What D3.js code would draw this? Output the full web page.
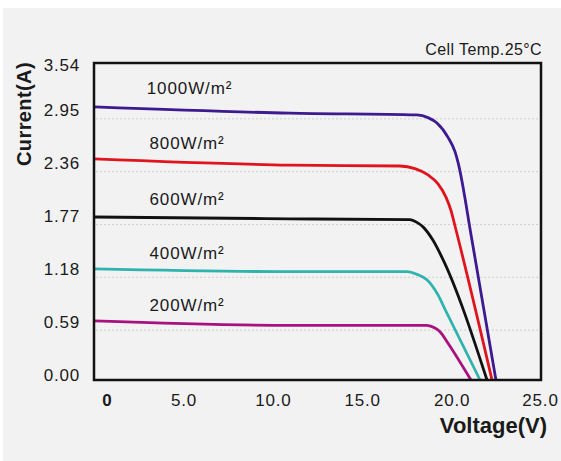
<!DOCTYPE html>
<html><head><meta charset="utf-8">
<script src="https://cdn.jsdelivr.net/npm/d3@7"></script>
<style>
html,body{margin:0;padding:0;background:#fff;}
svg{display:block;font-family:"Liberation Sans",Arial,Helvetica,sans-serif;}
</style></head>
<body>
<svg id="chart" width="561" height="461"></svg>
<script>
// ---- data (voltage V, current A) ----
const irradianceLabels = ["1000W/m²","800W/m²","600W/m²","400W/m²","200W/m²"];
const seriesColors = ["#3d1a8f","#e0141e","#111111","#2fb3ad","#a8117f"];
const curve1000 = [[0,3.05],[10.96,2.98],[18.06,2.96],[18.68,2.93],[19.18,2.87],[19.80,2.71],[20.19,2.55],[20.36,2.43],[21.14,1.56],[22.48,0]];
const curve800  = [[0,2.47],[10.96,2.40],[17.11,2.39],[17.95,2.36],[18.68,2.29],[19.24,2.19],[19.69,2.04],[19.97,1.89],[20.19,1.72],[22.26,0]];
const curve600  = [[0,1.82],[10.96,1.80],[17.67,1.79],[18.06,1.76],[18.40,1.71],[18.96,1.56],[19.46,1.37],[21.98,0]];
const curve400  = [[0,1.24],[10.96,1.21],[17.51,1.21],[18.06,1.18],[18.62,1.12],[19.24,0.95],[19.63,0.79],[21.59,0]];
const curve200  = [[0,0.66],[10.96,0.61],[18.62,0.61],[19.07,0.58],[19.35,0.54],[19.80,0.41],[21.08,0]];
const yTicks = [0, 0.59, 1.18, 1.77, 2.36, 2.95, 3.54];
const yTickLabels = ["0.00","0.59","1.18","1.77","2.36","2.95","3.54"];
const xTicks = [0, 5, 10, 15, 20, 25];
const xTickLabels = ["0","5.0","10.0","15.0","20.0","25.0"];
const labelValues = [3.26, 2.65, 2.02, 1.42, 0.84]; // where each irradiance label sits (A)

const series = [curve1000, curve800, curve600, curve400, curve200];

const svg = d3.select("#chart");
svg.append("rect").attr("x",3).attr("y",8).attr("width",558).attr("height",453).attr("fill","#f2f2f2");

const x = d3.scaleLinear().domain([0,25]).range([94,541]);
const y = d3.scaleLinear().domain([0,3.54]).range([380,63]);

// dotted gridlines
svg.append("g").selectAll("line").data(yTicks.slice(1,-1)).join("line")
  .attr("x1",x(0)+2).attr("x2",x(25)-2)
  .attr("y1",d=>y(d)+3).attr("y2",d=>y(d)+3)
  .attr("stroke","#cfcfcf").attr("stroke-width",1).attr("stroke-dasharray","2,2");

// curves
const line = d3.line().x(d=>x(d[0])).y(d=>y(d[1])).curve(d3.curveMonotoneX);
svg.append("g").selectAll("path").data(series).join("path")
  .attr("d",line).attr("fill","none")
  .attr("stroke",(d,i)=>seriesColors[i]).attr("stroke-width",2.8)
  .attr("stroke-linejoin","round");

// frame
svg.append("rect").attr("x",x(0)).attr("y",y(3.54)).attr("width",x(25)-x(0)).attr("height",y(0)-y(3.54))
  .attr("fill","none").attr("stroke","#111").attr("stroke-width",2.5);

// y axis labels
const yAxis = d3.axisLeft(y).tickValues(yTicks).tickFormat((d,i)=>yTickLabels[i]).tickSize(0).tickPadding(14);
const gy = svg.append("g").attr("transform",`translate(${x(0)},0)`).call(yAxis);
gy.select(".domain").remove();
gy.selectAll("text").attr("font-size","17px").attr("fill","#1a1a1a").attr("letter-spacing","0.8px")
  .attr("font-family","'Liberation Sans',Arial,sans-serif")
  .attr("dy",(d,i)=> i===yTicks.length-1 ? "0.45em" : "0.0em");

// x axis labels
const xAxis = d3.axisBottom(x).tickValues(xTicks).tickFormat((d,i)=>xTickLabels[i]).tickSize(0).tickPadding(14);
const gx = svg.append("g").attr("transform",`translate(0,${y(0)})`).call(xAxis);
gx.select(".domain").remove();
gx.selectAll("text").attr("font-size","17px").attr("fill","#1a1a1a").attr("letter-spacing","0.8px")
  .attr("font-family","'Liberation Sans',Arial,sans-serif")
  .attr("dx",(d,i)=> i===0 ? 13 : (i===5 ? -1 : 0))
  .attr("font-weight",(d,i)=> i===0 ? "bold" : "normal");

// irradiance labels
svg.append("g").selectAll("text").data(irradianceLabels).join("text")
  .attr("x",(d,i)=> i===0 ? x(2.95) : x(3.1))
  .attr("y",(d,i)=>y(labelValues[i]))
  .attr("dy","0.35em")
  .attr("font-size","17px").attr("letter-spacing","0.9px").attr("fill","#1a1a1a")
  .text(d=>d);

// temperature note
svg.append("text").attr("x",542).attr("y",55).attr("text-anchor","end")
  .attr("font-size","16px").attr("letter-spacing","0.4px").attr("fill","#1a1a1a")
  .text("Cell Temp.25°C");

// axis titles
svg.append("text").attr("transform","translate(31,114) rotate(-90)").attr("text-anchor","middle")
  .attr("font-size","20px").attr("font-weight","bold").attr("letter-spacing","0.4px").attr("fill","#1a1a1a")
  .text("Current(A)");
svg.append("text").attr("x",547).attr("y",433).attr("text-anchor","end")
  .attr("font-size","22px").attr("font-weight","bold").attr("fill","#1a1a1a")
  .text("Voltage(V)");
</script>
</body></html>
